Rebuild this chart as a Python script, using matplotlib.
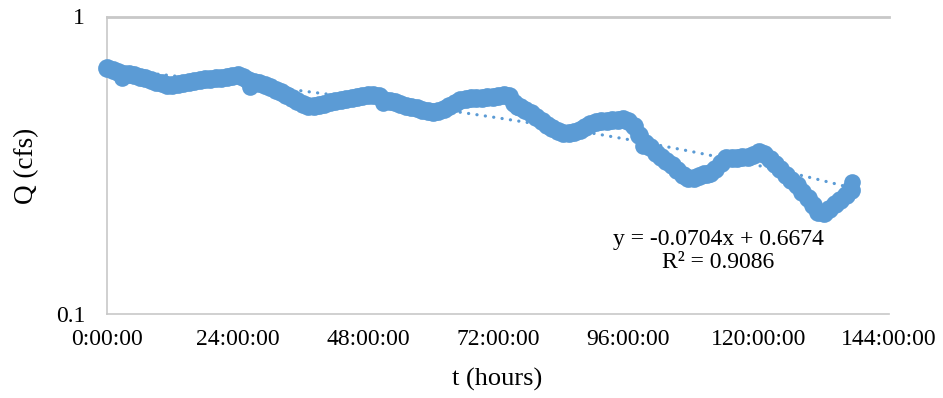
import numpy as np
import matplotlib
matplotlib.use("Agg")
import matplotlib.pyplot as plt
from matplotlib.ticker import FixedLocator, NullLocator

# hourly flow readings, t = 0 .. 137 h
flow_q = [
    0.671, 0.661, 0.651, 0.641, 0.641, 0.636, 0.626, 0.621, 0.611, 0.602,
    0.597, 0.588, 0.588, 0.593, 0.597, 0.602, 0.607, 0.611, 0.616, 0.616,
    0.621, 0.621, 0.626, 0.631, 0.636, 0.626, 0.611, 0.602, 0.597, 0.588,
    0.579, 0.566, 0.557, 0.544, 0.531, 0.519, 0.507, 0.499, 0.499, 0.503,
    0.507, 0.515, 0.519, 0.523, 0.527, 0.531, 0.536, 0.540, 0.544, 0.544,
    0.540, 0.523, 0.519, 0.515, 0.507, 0.499, 0.495, 0.491, 0.484, 0.480,
    0.476, 0.480, 0.488, 0.499, 0.511, 0.523, 0.527, 0.531, 0.531, 0.531,
    0.536, 0.536, 0.540, 0.544, 0.540, 0.511, 0.495, 0.484, 0.473, 0.458,
    0.444, 0.431, 0.421, 0.411, 0.405, 0.405, 0.408, 0.414, 0.424, 0.434,
    0.441, 0.444, 0.444, 0.448, 0.448, 0.451, 0.444, 0.427, 0.400, 0.377,
    0.363, 0.349, 0.338, 0.328, 0.318, 0.305, 0.294, 0.287, 0.287, 0.291,
    0.296, 0.298, 0.308, 0.323, 0.335, 0.335, 0.335, 0.338, 0.338, 0.343,
    0.351, 0.346, 0.333, 0.320, 0.308, 0.294, 0.282, 0.271, 0.257, 0.245,
    0.232, 0.221, 0.218, 0.226, 0.234, 0.241, 0.251, 0.262,
]
flow_t = np.arange(len(flow_q))

# odd single readings
spike_t = [2.7, 26.2, 50.8, 75.5, 98.7, 110.5, 136.8, 137.1]
spike_q = [0.621, 0.579, 0.511, 0.495, 0.368, 0.293, 0.265, 0.278]

# Excel linear trendline (x in days)
slope = -0.0704
intercept = 0.6674
r2 = 0.9086

xticks = [0, 24, 48, 72, 96, 120, 144]
xlabels = ["0:00:00", "24:00:00", "48:00:00", "72:00:00",
           "96:00:00", "120:00:00", "144:00:00"]

blue = "#5B9BD5"
grey = "#C8C8C8"

plt.rcParams["font.family"] = ["Liberation Serif", "DejaVu Serif"]

fig = plt.figure(figsize=(9.43, 3.98), dpi=100)
ax = fig.add_axes([107.3 / 943, 1 - 314 / 398, 781.7 / 943, 297.5 / 398])

ax.plot(flow_t, flow_q, "o", color=blue, ms=13.5, mec="none", zorder=3,
        clip_on=False)
ax.plot(spike_t, spike_q, "o", color=blue, ms=12, mec="none", zorder=3,
        clip_on=False)

t_all = np.concatenate([flow_t, spike_t])
tt = np.linspace(0, t_all.max(), 200)
ax.plot(tt, slope * tt / 24 + intercept, color=blue, lw=2.3,
        linestyle=(0, (0.05, 2.6)), dash_capstyle="round", zorder=4)

ax.set_yscale("log")
ax.set_ylim(0.1, 1)
ax.set_xlim(0, 144)
ax.yaxis.set_major_locator(FixedLocator([0.1, 1]))
ax.yaxis.set_minor_locator(NullLocator())
ax.set_yticklabels(["0.1", "1"])
ax.set_xticks(xticks)
ax.set_xticklabels(xlabels)
ax.tick_params(axis="both", length=0, labelsize=17)
ax.tick_params(axis="y", pad=16)
ax.tick_params(axis="x", pad=11)

for side in ["right", "top"]:
    ax.spines[side].set_visible(False)
for side in ["left", "bottom"]:
    ax.spines[side].set_color(grey)
    ax.spines[side].set_linewidth(1.2)
ax.axhline(1, color=grey, lw=2, clip_on=False, zorder=1)

fig.text(718 / 943, 1 - 251 / 398, f"y = {slope}x + {intercept}\nR² = {r2}",
         ha="center", va="center", fontsize=17, linespacing=1.1)

fig.text(27 / 943, 1 - 166 / 398, "Q (cfs)", rotation=90,
         ha="center", va="center", fontsize=19.5)
fig.text(497 / 943, 1 - 379 / 398, "t (hours)",
         ha="center", va="center", fontsize=19)

fig.savefig("out.png", dpi=100)
